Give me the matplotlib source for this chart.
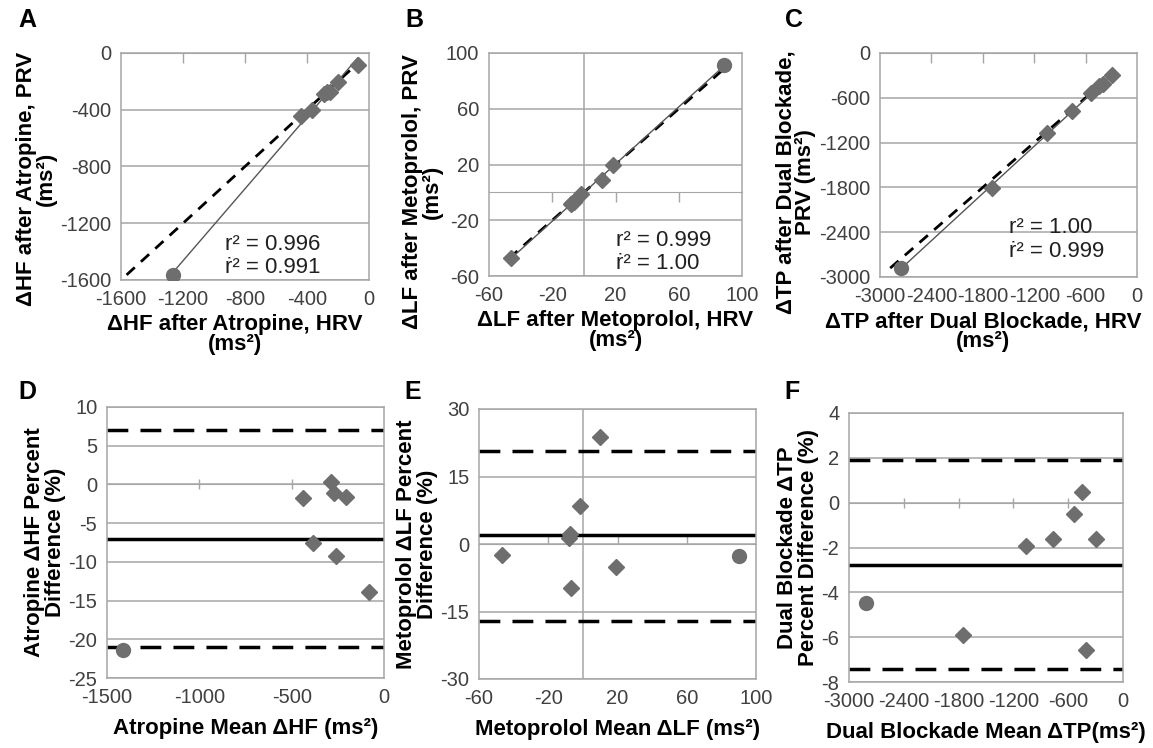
import matplotlib
matplotlib.use("Agg")
import matplotlib.pyplot as plt
import numpy as np

plt.rcParams['font.family'] = ['Liberation Sans', 'DejaVu Sans']
plt.rcParams['axes.unicode_minus'] = False

GRAY = "#a6a6a6"
MARK = "#6e6e6e"

# top row: HRV (x) vs PRV (y); last value in each list is the circled subject
hf_hrv = [-436, -370, -289, -270, -250, -202, -74, -1262]
hf_prv = [-444, -400, -289, -273, -274, -206, -86, -1564]
lf_hrv = [11.3, -1.6, -7.8, -8.4, -46.1, -6.4, 18.6, 88.8]
lf_prv = [8.9, -1.4, -7.6, -8.2, -47.3, -7.0, 19.6, 91.2]
tp_hrv = [-1698, -1054, -759, -535, -449, -289, -395, -2755]
tp_prv = [-1802, -1074, -771, -537, -447, -293, -421, -2881]

# bottom row: mean vs percent difference
hf_mean = [-440, -385, -289, -271, -262, -204, -80, -1413]
hf_diff = [-1.8, -7.5, 0.3, -1.1, -9.2, -1.6, -13.9, -21.4]
lf_mean = [10.1, -1.5, -7.7, -8.3, -46.7, -6.7, 19.1, 90]
lf_diff = [23.7, 8.5, 2.2, 1.3, -2.4, -9.8, -5.0, -2.6]
tp_mean = [-1750, -1064, -765, -536, -448, -291, -408, -2818]
tp_diff = [-5.89, -1.94, -1.64, -0.5, 0.47, -1.64, -6.59, -4.48]

# Bland-Altman limits: upper, bias, lower
hf_limits = [7.0, -7.0, -21.0]
lf_limits = [20.7, 1.9, -17.0]
tp_limits = [1.92, -2.77, -7.41]

r2_text = {"A": "r² = 0.996\nṙ² = 0.991", "B": "r² = 0.999\nṙ² = 1.00", "C": "r² = 1.00\nṙ² = 0.999"}

W, H = 1153, 748
fig = plt.figure(figsize=(W / 100, H / 100), dpi=100)


def make_axes(left, right, top, bottom):
    return fig.add_axes([left / W, 1 - bottom / H, (right - left) / W, (bottom - top) / H])


def style(ax, xlim, ylim, xticks, yticks, zero_ticks, zero_dir, vline):
    ax.set_xlim(xlim)
    ax.set_ylim(ylim)
    ax.set_xticks(xticks)
    ax.set_yticks(yticks)
    ax.tick_params(length=0, labelsize=14.5, colors="#404040", pad=7)
    for s in ax.spines.values():
        s.set_color(GRAY)
        s.set_linewidth(1.1)
    ax.yaxis.grid(True, color=GRAY, lw=1.1)
    ax.set_axisbelow(True)
    loc = (0 - ylim[0]) / (ylim[1] - ylim[0])
    sec = ax.secondary_xaxis(loc)
    sec.set_xticks(zero_ticks)
    sec.tick_params(direction=zero_dir, length=7, width=1, color=GRAY,
                    labelbottom=False, labeltop=False)
    sec.spines["bottom"].set_color(GRAY)
    sec.spines["top"].set_color(GRAY)
    if vline:
        ax.axvline(0, color=GRAY, lw=1.1, zorder=0.5)


def scatter_panel(ax, x, y):
    x = np.array(x)
    y = np.array(y)
    ax.plot([y.min(), y.max()], [y.min(), y.max()], color="black", lw=2,
            dashes=(4, 3), zorder=2)
    k, b = np.polyfit(x, y, 1)
    xs = np.array([x.min(), x.max()])
    ax.plot(xs, k * xs + b, color="#555555", lw=1, zorder=2)
    ax.plot(x[:-1], y[:-1], "D", color=MARK, ms=8.5, zorder=3)
    ax.plot(x[-1:], y[-1:], "o", color=MARK, ms=10, zorder=3)


def ba_panel(ax, m, d, limits):
    ax.axhline(limits[0], color="black", lw=2.5, dashes=(6, 3.5), zorder=2)
    ax.axhline(limits[1], color="black", lw=2.5, zorder=2)
    ax.axhline(limits[2], color="black", lw=2.5, dashes=(6, 3.5), zorder=2)
    ax.plot(m[:-1], d[:-1], "D", color=MARK, ms=8.5, zorder=3)
    ax.plot(m[-1:], d[-1:], "o", color=MARK, ms=10, zorder=3)


LAB = dict(fontsize=16, fontweight="bold", linespacing=0.95)
R2 = dict(fontsize=16, linespacing=1.15, color="#202020")

# A
ax = make_axes(121, 369, 53, 280)
style(ax, (-1600, 0), (-1600, 0), range(-1600, 1, 400), range(-1600, 1, 400),
      [-1200, -800, -400], "in", False)
scatter_panel(ax, hf_hrv, hf_prv)
ax.set_xlabel("ΔHF after Atropine, HRV\n(ms²)", labelpad=4, **LAB)
ax.set_ylabel("ΔHF after Atropine, PRV\n(ms²)", labelpad=2, **LAB)
ax.xaxis.label.set_x(0.458)
ax.yaxis.label.set_y(0.445)
ax.text(0.42, 0.03, r2_text["A"], transform=ax.transAxes, **R2)

# B
ax = make_axes(489, 742, 53, 276)
style(ax, (-60, 100), (-60, 100), range(-60, 101, 40), range(-60, 101, 40),
      [-20, 20, 60], "out", True)
scatter_panel(ax, lf_hrv, lf_prv)
ax.set_xlabel("ΔLF after Metoprolol, HRV\n(ms²)", labelpad=4, **LAB)
ax.set_ylabel("ΔLF after Metoprolol, PRV\n(ms²)", labelpad=2, **LAB)
ax.yaxis.label.set_y(0.377)
ax.text(0.50, 0.03, r2_text["B"], transform=ax.transAxes, **R2)

# C
ax = make_axes(880, 1137, 53, 277)
style(ax, (-3000, 0), (-3000, 0), range(-3000, 1, 600), range(-3000, 1, 600),
      [-2400, -1800, -1200, -600], "in", False)
scatter_panel(ax, tp_hrv, tp_prv)
ax.set_xlabel("ΔTP after Dual Blockade, HRV\n(ms²)", labelpad=4, **LAB)
ax.set_ylabel("ΔTP after Dual Blockade,\nPRV (ms²)", labelpad=2, **LAB)
ax.xaxis.label.set_x(0.40)
ax.yaxis.label.set_y(0.424)
ax.text(0.50, 0.09, r2_text["C"], transform=ax.transAxes, **R2)

# D
ax = make_axes(107, 384, 407, 678)
style(ax, (-1500, 0), (-25, 10), range(-1500, 1, 500), range(-25, 11, 5),
      [-1000, -500], "inout", False)
ba_panel(ax, hf_mean, hf_diff, hf_limits)
ax.set_xlabel("Atropine Mean ΔHF (ms²)", labelpad=8, **LAB)
ax.set_ylabel("Atropine ΔHF Percent\nDifference (%)", labelpad=2, **LAB)

# E
ax = make_axes(479, 756, 409, 679)
style(ax, (-60, 100), (-30, 30), range(-60, 101, 40), range(-30, 31, 15),
      [-20, 20, 60], "out", True)
ba_panel(ax, lf_mean, lf_diff, lf_limits)
ax.set_xlabel("Metoprolol Mean ΔLF (ms²)", labelpad=8, **LAB)
ax.set_ylabel("Metoprolol ΔLF Percent\nDifference (%)", labelpad=2, **LAB)

# F
ax = make_axes(849, 1123, 413, 682)
style(ax, (-3000, 0), (-8, 4), range(-3000, 1, 600), range(-8, 5, 2),
      [-2400, -1800, -1200, -600], "inout", False)
ba_panel(ax, tp_mean, tp_diff, tp_limits)
ax.set_xlabel("Dual Blockade Mean ΔTP(ms²)", labelpad=8, **LAB)
ax.set_ylabel("Dual Blockade ΔTP\nPercent Difference (%)", labelpad=2, **LAB)

for letter, x, y in [("A", 18, 20), ("B", 405, 20), ("C", 785, 20),
                     ("D", 18, 392), ("E", 404, 392), ("F", 784, 392)]:
    fig.text(x / W, 1 - y / H, letter, fontsize=18, fontweight="bold", va="center")

fig.savefig("out.png", dpi=100)
